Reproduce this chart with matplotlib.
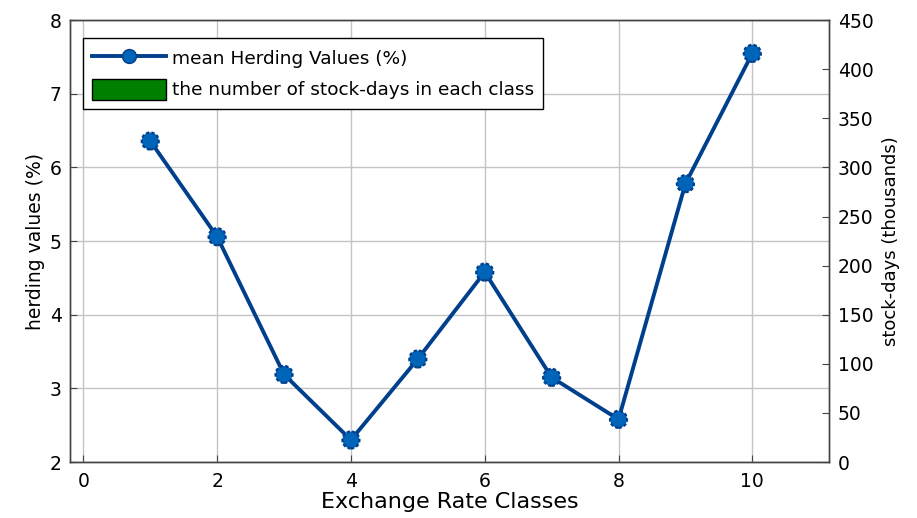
import numpy as np
import matplotlib.pyplot as plt

plt.rcParams['font.family'] = ['DejaVu Sans']

# mean herding value per exchange-rate class
classes = [1, 2, 3, 4, 5, 6, 7, 8, 9, 10]
herding = [6.36, 5.06, 3.19, 2.30, 3.40, 4.58, 3.15, 2.58, 5.78, 7.55]

# stock-days per class (thousands) - no bars are shown in this figure
stock_days = []
stock_classes = []

line_col = '#003f8c'
fill_col = '#0064b8'

fig = plt.figure(figsize=(9.17, 5.18), dpi=100)
ax = fig.add_axes([0.0763, 0.108, 0.828, 0.853])
ax2 = ax.twinx()

ax.set_xlim(-0.2, 11.15)
ax.set_ylim(2, 8)
ax.set_xticks([0, 2, 4, 6, 8, 10])
ax.set_yticks(np.arange(2, 9, 1))
ax2.set_ylim(0, 450)
ax2.set_yticks(np.arange(0, 451, 50))

ax.grid(True, color='#c4c4c4', linewidth=1.0)
ax.set_axisbelow(True)

ax.plot(classes, herding, color=line_col, linewidth=2.8, zorder=3)
ax.scatter(classes, herding, s=150, facecolor=fill_col, edgecolor=line_col,
           linewidth=1.6, linestyle=(0, (1.5, 1.0)), zorder=4)

bars = ax2.bar(stock_classes, stock_days, color='#007f00', edgecolor='black')

for a in (ax, ax2):
    a.tick_params(direction='in', length=5, width=0.8, labelsize=13.5,
                  color='#444444')
    for s in a.spines.values():
        s.set_color('#444444')
        s.set_linewidth(1.0)
ax.tick_params(axis='x', pad=7)
ax.tick_params(axis='y', pad=6)
ax2.tick_params(axis='y', pad=6)

ax.set_xlabel('Exchange Rate Classes', fontsize=16, labelpad=1)
ax.set_ylabel('herding values (%)', fontsize=13.5, labelpad=3)
ax2.set_ylabel('stock-days (thousands)', fontsize=13, labelpad=6)

# legend entries: line with marker, green bar patch
h_line, = ax.plot([], [], color=line_col, linewidth=2.8, marker='o',
                  markersize=10, markerfacecolor=fill_col,
                  markeredgecolor=line_col)
h_bar = plt.Rectangle((0, 0), 1, 1, facecolor='#007f00', edgecolor='black')
leg = ax2.legend([h_line, h_bar],
                 ['mean Herding Values (%)',
                  'the number of stock-days in each class'],
                 loc='upper left', bbox_to_anchor=(0.017, 0.96),
                 fontsize=13.3, frameon=True, fancybox=False,
                 handlelength=4.0, handleheight=1.4, borderpad=0.5,
                 labelspacing=0.55, handletextpad=0.3, borderaxespad=0)
leg.get_frame().set_edgecolor('black')
leg.get_frame().set_linewidth(1.0)
leg.get_frame().set_alpha(1)

fig.savefig('out.png', dpi=100)
